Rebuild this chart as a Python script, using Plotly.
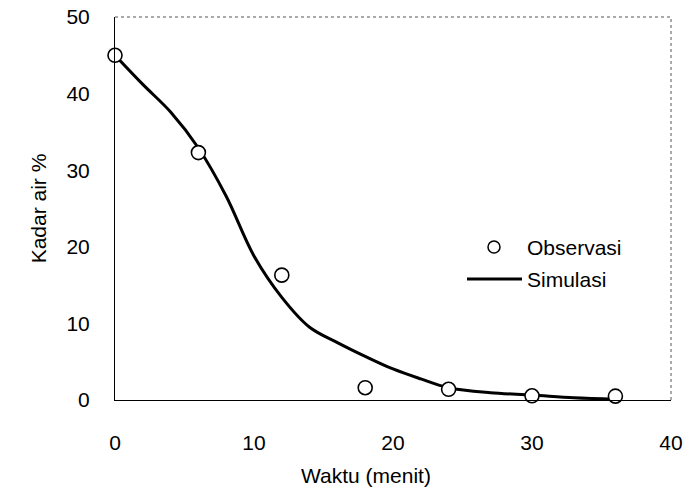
import plotly.graph_objects as go

# Observed data
obs_time = [0, 6, 12, 18, 24, 30, 36]
obs_moisture = [45.0, 32.3, 16.3, 1.6, 1.4, 0.55, 0.5]

# Simulated curve
sim_time = [0, 2, 4, 6, 8, 10, 12, 14, 16, 18, 20, 22, 24, 27, 30, 33, 36]
sim_moisture = [45.0, 41.2, 37.6, 32.9, 26.6, 18.8, 13.4, 9.5, 7.5, 5.7, 4.05, 2.75, 1.6, 0.95, 0.65, 0.3, 0.1]

x_ticks = [0, 10, 20, 30, 40]
y_ticks = [0, 10, 20, 30, 40, 50]

FONT = "Liberation Sans, Arial, sans-serif"
FS = 21

fig = go.Figure()
fig.add_trace(go.Scatter(
    x=sim_time, y=sim_moisture, mode="lines", name="Simulasi",
    line=dict(color="black", width=3, shape="spline", smoothing=1.0),
    showlegend=False,
))
fig.add_trace(go.Scatter(
    x=obs_time, y=obs_moisture, mode="markers", name="Observasi",
    marker=dict(symbol="circle", size=14, color="white",
                line=dict(color="black", width=1.6)),
    showlegend=False, cliponaxis=False,
))

L, R, T, B = 115, 13, 17, 90
W, H = 684, 490
pw, ph = W - L - R, H - T - B

def px_to_paper_x(px):
    return (px - L) / pw

def px_to_paper_y(py):
    return (H - B - py) / ph

shapes = [
    # top and right frame (dotted, lighter)
    dict(type="line", xref="paper", yref="paper", x0=0, x1=1, y0=1, y1=1,
         line=dict(color="#555", width=1, dash="dot")),
    dict(type="line", xref="paper", yref="paper", x0=1, x1=1, y0=0, y1=1,
         line=dict(color="#555", width=1, dash="dot")),
    # legend: line glyph
    dict(type="line", xref="paper", yref="paper",
         x0=px_to_paper_x(467), x1=px_to_paper_x(522),
         y0=px_to_paper_y(279), y1=px_to_paper_y(279),
         line=dict(color="black", width=3)),
    # legend: circle glyph
    dict(type="circle", xref="paper", yref="paper",
         xsizemode="pixel", ysizemode="pixel",
         xanchor=px_to_paper_x(494), yanchor=px_to_paper_y(247),
         x0=-6, x1=6, y0=-6, y1=6,
         line=dict(color="black", width=1.5), fillcolor="white"),
]

annotations = [
    dict(text="Observasi", xref="paper", yref="paper",
         x=px_to_paper_x(525), y=px_to_paper_y(247), xanchor="left", yanchor="middle",
         showarrow=False, font=dict(family=FONT, size=FS, color="black")),
    dict(text="Simulasi", xref="paper", yref="paper",
         x=px_to_paper_x(525), y=px_to_paper_y(279), xanchor="left", yanchor="middle",
         showarrow=False, font=dict(family=FONT, size=FS, color="black")),
    dict(text="Waktu (menit)", xref="paper", yref="paper",
         x=px_to_paper_x(366), y=px_to_paper_y(475), xanchor="center", yanchor="middle",
         showarrow=False, font=dict(family=FONT, size=FS, color="black")),
]

fig.update_layout(
    width=W, height=H,
    margin=dict(l=L, r=R, t=T, b=B, autoexpand=False),
    plot_bgcolor="white", paper_bgcolor="white",
    font=dict(family=FONT, size=FS, color="black"),
    shapes=shapes, annotations=annotations,
    xaxis=dict(range=[0, 40], tickvals=x_ticks, ticktext=[str(v) for v in x_ticks],
               showgrid=False, zeroline=False, showline=True, linecolor="black",
               linewidth=1, ticks="", ticklabelstandoff=24, automargin=False,
               ticklabeloverflow="allow"),
    yaxis=dict(range=[0, 50], tickvals=y_ticks, ticktext=[str(v) for v in y_ticks],
               showgrid=False, zeroline=False, showline=True, linecolor="black",
               linewidth=1, ticks="", ticklabelstandoff=20, automargin=False,
               ticklabeloverflow="allow",
               title=dict(text="Kadar air %", standoff=14,
                          font=dict(family=FONT, size=FS))),
)

fig.write_html(
    "out.html",
    config={"displayModeBar": False},
    post_script="document.body.style.margin='0';document.body.style.overflow='hidden';",
)
